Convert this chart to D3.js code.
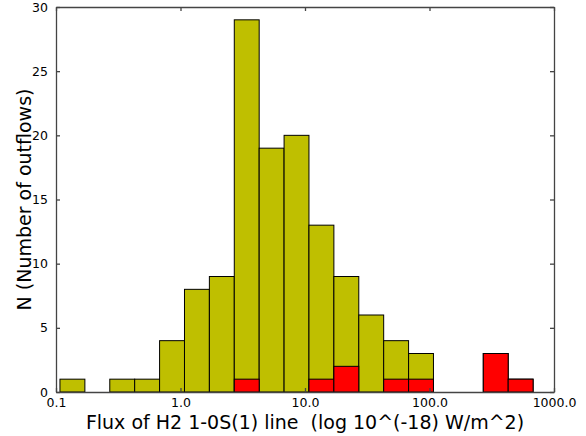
<!DOCTYPE html>
<html>
<head>
<meta charset="utf-8">
<script src="https://cdn.jsdelivr.net/npm/d3@7"></script>
<style>
  html, body { margin: 0; padding: 0; background: #fff; }
  svg { display: block; font-family: "DejaVu Sans", sans-serif; }
</style>
</head>
<body>
<svg id="chart" width="586" height="436"></svg>
<script>
// Bin edges (flux, log-spaced, 10^-18 W/m^2)
const binEdges = [0.1076, 0.1706, 0.2704, 0.4285, 0.6792, 1.0765, 1.706, 2.704, 4.285, 6.792,
                  10.76, 17.06, 27.04, 42.85, 67.92, 107.6, 170.6, 270.4, 428.5, 679.2];
// Counts per bin: all outflows (yellow) and subset (red)
const allCounts = [1, 0, 1, 1, 4, 8, 9, 29, 19, 20, 13, 9, 6, 4, 3, 0, 0, 3, 1];
const redCounts = [0, 0, 0, 0, 0, 0, 0, 1, 0, 0, 1, 2, 0, 1, 1, 0, 0, 3, 1];
const xTicks = [0.1, 1, 10, 100, 1000];
const xTickLabels = ["0.1", "1.0", "10.0", "100.0", "1000.0"];
const yTicks = [0, 5, 10, 15, 20, 25, 30];
const xLabel = "Flux of H2 1-0S(1) line  (log 10^(-18) W/m^2)";
const yLabel = "N (Number of outflows)";

const svg = d3.select("#chart");
const L = 56, R = 554, T = 7, B = 392;
const x = d3.scaleLog().domain([0.1, 1000]).range([L, R]);
const y = d3.scaleLinear().domain([0, 30]).range([B, T]);

function bars(counts, color) {
  svg.append("g").selectAll("rect")
    .data(counts.map((c, i) => ({c, x0: binEdges[i], x1: binEdges[i + 1]})).filter(d => d.c > 0))
    .join("rect")
    .attr("x", d => x(d.x0))
    .attr("width", d => x(d.x1) - x(d.x0))
    .attr("y", d => y(d.c))
    .attr("height", d => y(0) - y(d.c))
    .attr("fill", color)
    .attr("stroke", "#000")
    .attr("stroke-width", 1);
}
bars(allCounts, "#bfbf00");
bars(redCounts, "#ff0000");

// Axes with inward ticks, mirrored
const tickLen = 4;
const gx = svg.append("g").attr("transform", `translate(0,${B})`)
  .call(d3.axisBottom(x).tickValues(xTicks).tickFormat((d, i) => xTickLabels[i])
    .tickSizeInner(-tickLen).tickSizeOuter(0).tickPadding(6));
const gxt = svg.append("g").attr("transform", `translate(0,${T})`)
  .call(d3.axisTop(x).tickValues(xTicks).tickFormat("").tickSizeInner(-tickLen).tickSizeOuter(0));
const gy = svg.append("g").attr("transform", `translate(${L},0)`)
  .call(d3.axisLeft(y).tickValues(yTicks).tickFormat(d3.format("d"))
    .tickSizeInner(-tickLen).tickSizeOuter(0).tickPadding(8));
const gyr = svg.append("g").attr("transform", `translate(${R},0)`)
  .call(d3.axisRight(y).tickValues(yTicks).tickFormat("").tickSizeInner(-tickLen).tickSizeOuter(0));

[gx, gxt, gy, gyr].forEach(g => {
  g.select(".domain").attr("stroke", "#444").attr("stroke-width", 1.3);
  g.selectAll(".tick line").attr("stroke", "#444").attr("stroke-width", 1.3);
  g.selectAll("text").attr("font-family", "DejaVu Sans").attr("font-size", 12.5).attr("fill", "#000");
});

svg.append("text")
  .attr("x", (L + R) / 2).attr("y", 429)
  .attr("text-anchor", "middle")
  .attr("font-size", 19)
  .style("white-space", "pre")
  .attr("xml:space", "preserve")
  .text(xLabel);

svg.append("text")
  .attr("transform", `translate(31,${(T + B) / 2}) rotate(-90)`)
  .attr("text-anchor", "middle")
  .attr("font-size", 19)
  .text(yLabel);
</script>
</body>
</html>
